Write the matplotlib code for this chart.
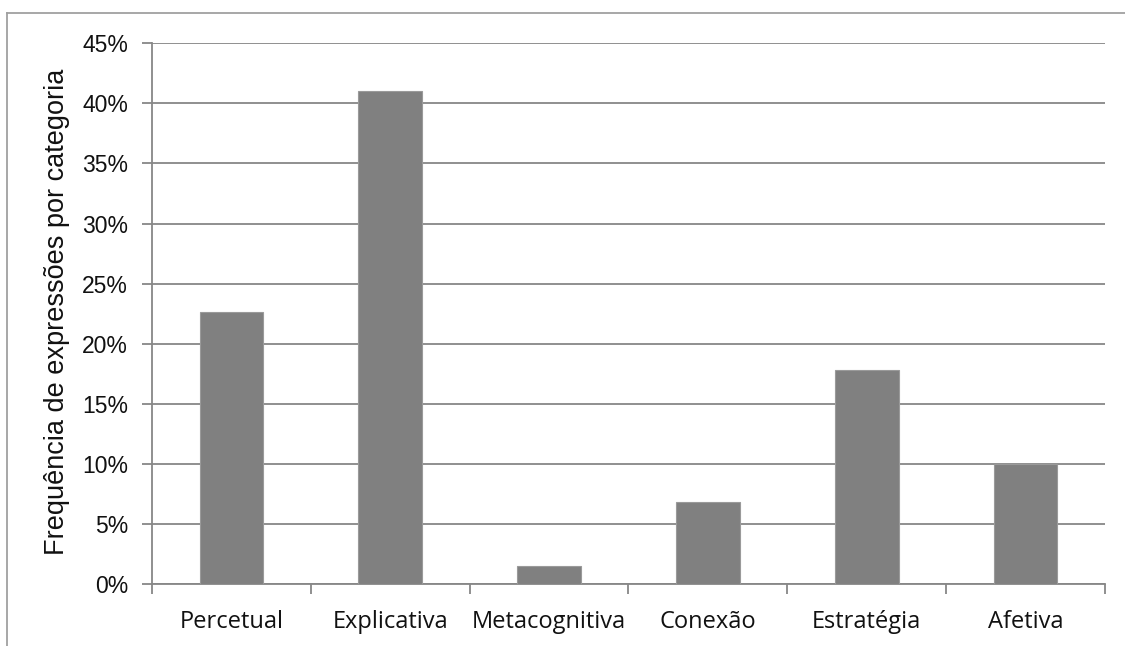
import matplotlib
matplotlib.use("Agg")
import matplotlib.pyplot as plt
from matplotlib.lines import Line2D
from matplotlib.ticker import FuncFormatter, MultipleLocator
import numpy as np

categories = ["Percetual", "Explicativa", "Metacognitiva", "Conexão", "Estratégia", "Afetiva"]
values = [22.6, 41.0, 1.5, 6.8, 17.8, 10.0]
y_label = "Frequência de expressões por categoria"

fig = plt.figure(figsize=(11.25, 6.46), dpi=100)
ax = fig.add_axes([152/1125, 1 - 584/646, (1105-152)/1125, (584-43.3)/646])

x = np.arange(len(categories))
grid_c = "#878787"
ax.bar(x, values, width=0.4, color="#808080", edgecolor="#9a9a9a", linewidth=0.8, zorder=3)

ax.set_xlim(-0.5, len(categories) - 0.5)
ax.set_ylim(0, 45)
ax.yaxis.set_major_locator(MultipleLocator(5))
ax.yaxis.set_major_formatter(FuncFormatter(lambda v, p: f"{int(round(v))}%"))
ax.grid(axis="y", color=grid_c, linewidth=1.3, zorder=0)
ax.set_axisbelow(True)

for s in ["top", "right"]:
    ax.spines[s].set_visible(False)
for s in ["left", "bottom"]:
    ax.spines[s].set_color(grid_c)
    ax.spines[s].set_linewidth(1.3)

ax.set_xticks(x)
ax.set_xticklabels(categories, fontfamily="Open Sans", fontsize=17, color="#111111")
ax.set_xticks(np.arange(-0.5, len(categories)), minor=True)
ax.tick_params(axis="x", which="major", length=0, pad=19)
ax.tick_params(axis="x", which="minor", length=7.2, width=1.3, color=grid_c, direction="out")
ax.tick_params(axis="y", length=7.2, width=1.3, color=grid_c, pad=10, labelsize=16.5, labelcolor="#111111")
for lab in ax.get_yticklabels():
    lab.set_fontfamily("Liberation Sans")

fig.text(57/1125, 1 - 312/646, y_label, rotation=90, ha="center", va="center",
         fontfamily="Liberation Sans", fontsize=19.5, color="#111111")

# outer frame (top and left edges)
fig.add_artist(Line2D([7/1125, 1.0], [1 - 13/646, 1 - 13/646], transform=fig.transFigure, color="#a0a0a0", linewidth=1.3))
fig.add_artist(Line2D([7/1125, 7/1125], [0.0, 1 - 13/646], transform=fig.transFigure, color="#a0a0a0", linewidth=1.3))

fig.savefig("out.png", dpi=100)
